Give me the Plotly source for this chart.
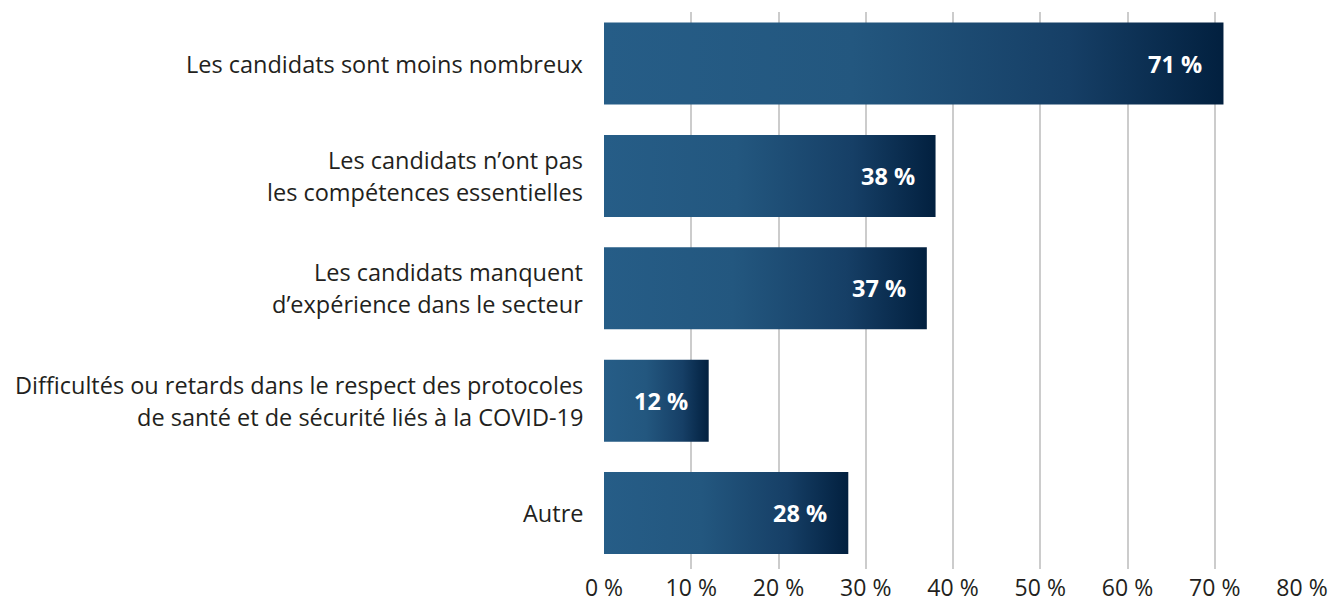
import plotly.graph_objects as go

categories = [
    "Les candidats sont moins nombreux",
    "Les candidats n’ont pas\nles compétences essentielles",
    "Les candidats manquent\nd’expérience dans le secteur",
    "Difficultés ou retards dans le respect des protocoles\nde santé et de sécurité liés à la COVID-19",
    "Autre",
]
values = [71, 38, 37, 12, 28]
x_ticks = [0, 10, 20, 30, 40, 50, 60, 70, 80]
x_tick_labels = [f"{t} %" for t in x_ticks]

FONT = "Open Sans"
TEXT_COLOR = "#231f20"
half = 0.365  # half bar thickness in category units

fig = go.Figure()

# each bar is a filled polygon so it can carry a left-to-right gradient
for i, v in enumerate(values):
    fig.add_trace(go.Scatter(
        x=[0, v, v, 0, 0],
        y=[i - half, i - half, i + half, i + half, i - half],
        mode="lines",
        line=dict(width=0),
        fill="toself",
        fillgradient=dict(
            type="horizontal",
            colorscale=[[0, "#265d87"], [0.4, "#23577f"], [0.75, "#163f66"], [1, "#02203f"]],
        ),
        hoverinfo="skip",
        showlegend=False,
    ))

annotations = []
for i, (cat, v) in enumerate(zip(categories, values)):
    # value label inside the bar end
    annotations.append(dict(
        x=v, y=i, xref="x", yref="y", text=f"<b>{v} %</b>",
        showarrow=False, xanchor="right", xshift=-19,
        font=dict(family=FONT, size=23.5, color="white"),
    ))
    # category label, one annotation per line to control line spacing
    lines = cat.split("\n")
    n = len(lines)
    for k, line in enumerate(lines):
        annotations.append(dict(
            x=0, y=i, xref="paper", yref="y", text=line,
            showarrow=False, xanchor="right", xshift=-19,
            yshift=(n - 1) * 16 - k * 32,
            font=dict(family=FONT, size=23.5, color=TEXT_COLOR),
        ))

fig.update_layout(
    width=1332, height=605,
    margin=dict(l=604, r=30, t=12, b=36),
    plot_bgcolor="white", paper_bgcolor="white",
    annotations=annotations,
    xaxis=dict(
        range=[0, 80], tickmode="array", tickvals=x_ticks, ticktext=x_tick_labels,
        showgrid=True, gridcolor="#cccccc", gridwidth=1.5,
        zeroline=False, showline=False, automargin=False,
        tickfont=dict(family=FONT, size=23, color=TEXT_COLOR),
        ticklabelstandoff=3,
    ),
    yaxis=dict(
        range=[4 + 0.498, -0.459], showticklabels=False,
        showgrid=False, zeroline=False, showline=False, automargin=False,
    ),
)

# drop the browser's default page margin so the figure sits at the window origin
fig.write_html(
    "out.html",
    config={"displayModeBar": False},
    post_script="document.body.style.margin='0';",
)
